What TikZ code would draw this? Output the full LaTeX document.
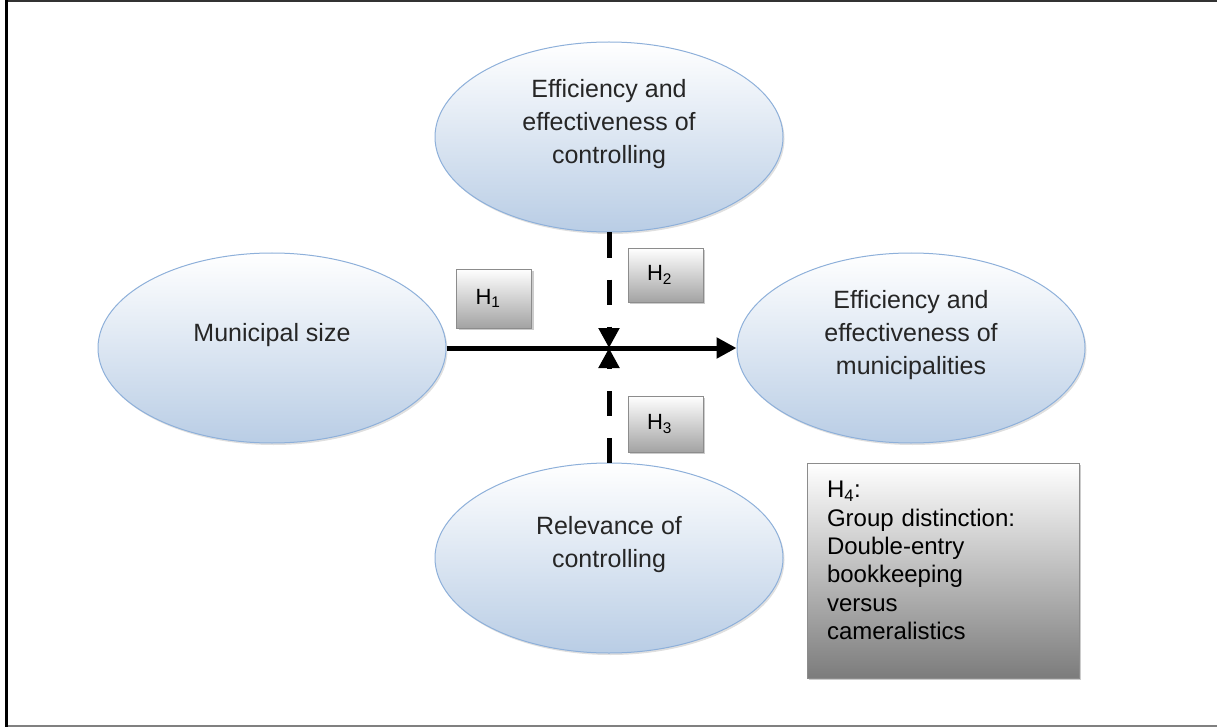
\documentclass[tikz,border=0pt]{standalone}
\usepackage{fontspec}
\setmainfont{Liberation Sans}
\usetikzlibrary{shapes.geometric, arrows.meta, shadows}

\definecolor{ellblue}{HTML}{B9CDE5}
\definecolor{ellline}{HTML}{8EB0DA}
\definecolor{boxgray}{HTML}{A3A3A3}
\definecolor{boxline}{HTML}{8C8C8C}
\definecolor{notegray}{HTML}{7C7C7C}

\begin{document}
\begin{tikzpicture}[x=1pt, y=-1pt]
    % Node Styles
    \tikzstyle{construct} = [ellipse, draw=ellline, line width=1pt, top color=white, bottom color=ellblue, minimum width=348pt, minimum height=190pt, inner sep=0pt, drop shadow={shadow xshift=1.5pt, shadow yshift=-2pt, opacity=0.25}]
    \tikzstyle{constext} = [align=center, text=black!85, font=\fontsize{25}{33}\selectfont, yshift=13pt]
    \tikzstyle{hyp} = [rectangle, draw=boxline, top color=white, bottom color=boxgray, minimum width=75pt, minimum height=56pt, text width=37pt, inner xsep=19pt, align=left, font=\fontsize{22}{26}\selectfont, drop shadow={shadow xshift=2pt, shadow yshift=-2pt, opacity=0.4}]
    \tikzstyle{note} = [rectangle, draw=boxline, top color=white, bottom color=notegray, minimum width=272pt, minimum height=215pt, drop shadow={shadow xshift=2pt, shadow yshift=-2pt, opacity=0.4}]
    \tikzstyle{notetext} = [text width=232pt, align=left, font=\fontsize{24}{28.3}\selectfont, yshift=10pt]
    \tikzstyle{line} = [draw, line width=5pt, -{Triangle[length=20pt, width=20pt]}]
    \tikzstyle{modline} = [line, dash pattern=on 25pt off 22pt]

    \useasboundingbox (0,0) rectangle (1217,727);

    % Frame
    \draw[black!80, line width=2.5pt] (6,1.25) -- (1217,1.25);
    \draw[gray, line width=1.5pt] (6,726) -- (1217,726);
    \draw[black, line width=3pt] (6,0) -- (6,727);

    % Constructs
    \node [construct, label={[constext]center:Municipal size}] (size) at (272,348) {};
    \node [construct, label={[constext]center:{Efficiency and\\effectiveness of\\controlling}}] (ctrl) at (609,137) {};
    \node [construct, label={[constext]center:{Efficiency and\\effectiveness of\\municipalities}}] (munic) at (911,348) {};
    \node [construct, label={[constext]center:{Relevance of\\controlling}}] (relev) at (609,558) {};

    % Hypotheses
    \node [hyp, minimum height=59pt] (h1) at (494,298.5) {H\textsubscript{1}};
    \node [hyp, minimum height=54pt] (h2) at (665.5,275) {H\textsubscript{2}};
    \node [hyp] (h3) at (665.5,424) {H\textsubscript{3}};
    \node [note, label={[notetext]center:{H\textsubscript{4}:\\Group distinction:\\Double-entry\\bookkeeping\\versus\\cameralistics}}] (h4) at (943,570.5) {};

    % Paths
    \path [line] (size.east) -- (munic.west);
    \path [modline] (ctrl.south) -- (ctrl |- size);
    \path [modline] (relev.north) -- (relev |- size);
\end{tikzpicture}
\end{document}
